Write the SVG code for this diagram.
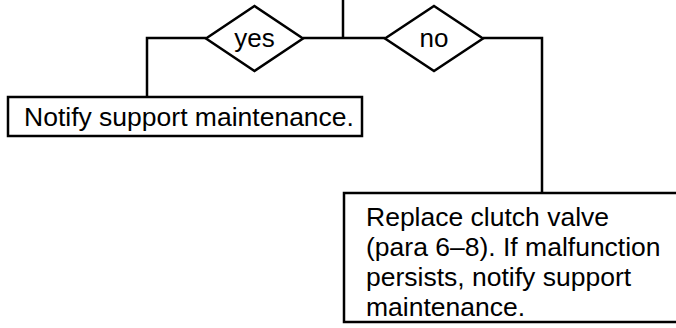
<svg xmlns="http://www.w3.org/2000/svg" width="676" height="328" viewBox="0 0 676 328">
<style>
.s{fill:none;stroke:#000;stroke-width:2.5}
.b{fill:#fff;stroke:#000;stroke-width:2.5}
text{font-family:"Liberation Sans",Arial,sans-serif;font-size:26.5px;fill:#000}
.d{font-size:26px;text-anchor:middle}
</style>
<rect width="676" height="328" fill="#fff"/>
<g id="connectors">
<polyline class="s" points="343,0 343,38"/>
<polyline class="s" points="206,38 147,38 147,97"/>
<polyline class="s" points="303,38 385,38"/>
<polyline class="s" points="483,38 542,38 542,193"/>
</g>
<g id="yes">
<polygon class="b" points="254.5,6 303,38.5 254.5,71 206,38.5"/>
<text class="d" x="254.5" y="47">yes</text>
</g>
<g id="no">
<polygon class="b" points="434,6 483,38.5 434,71 385,38.5"/>
<text class="d" x="434" y="47">no</text>
</g>
<g id="notify">
<rect class="b" x="8" y="97" width="354" height="39"/>
<text x="24" y="126">Notify support maintenance.</text>
</g>
<g id="replace">
<rect class="b" x="344" y="193" width="340" height="129"/>
<text x="366"><tspan x="366" y="226">Replace clutch valve</tspan><tspan x="366" y="256">(para 6–8). If malfunction</tspan><tspan x="366" y="286">persists, notify support</tspan><tspan x="366" y="316">maintenance.</tspan></text>
</g>
</svg>
